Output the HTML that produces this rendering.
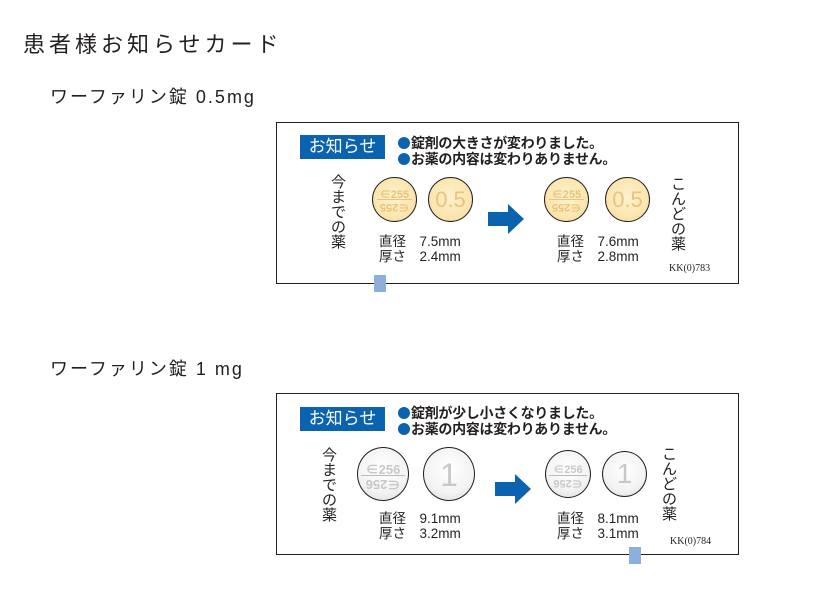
<!DOCTYPE html>
<html><head><meta charset="utf-8"><style>
body{margin:0;width:818px;height:603px;background:#fff;position:relative;overflow:hidden;font-family:"Liberation Sans","Noto Sans CJK JP",sans-serif;color:#231f20}
.a{position:absolute;white-space:nowrap}
.card{position:absolute;left:276px;width:461px;height:160px;border:1px solid #231f20;background:#fff}
.badge{position:absolute;background:#0b63b0;color:#fff;font-size:17px;text-align:center;line-height:24px}
.bl{font-size:14px;font-weight:bold;line-height:16px;letter-spacing:-0.3px}
.bl i{display:inline-block;width:12px;height:12px;border-radius:50%;background:#0b63b0;margin-right:1px;vertical-align:-1px}
.v{font-size:15px;line-height:15px;width:17px;text-align:center;white-space:normal}
.tab{position:absolute;border-radius:50%;border:1.5px solid #231f20;box-sizing:border-box;overflow:hidden}
.y{background:radial-gradient(circle at 50% 45%,#fdf1cf 0%,#fbe6b0 60%,#f3d593 100%);color:#e9c37a}
.w{background:radial-gradient(circle at 50% 40%,#ffffff 0%,#f3f3f3 60%,#d8d8d8 100%);color:#c8c8c8}
.tab .t{position:absolute;left:0;right:0;text-align:center}
.dm{font-size:13.5px;line-height:15px}
.kk{font-family:"Liberation Serif",serif;font-size:10px}
</style></head><body>
<div class="a" style="left:23px;top:27px;font-size:22px;letter-spacing:4px">患者様お知らせカード</div>
<div class="a" style="left:50px;top:83px;font-size:18px;letter-spacing:2px">ワーファリン錠 0.5mg</div>
<div class="a" style="left:50px;top:355px;font-size:18px;letter-spacing:2px">ワーファリン錠 1 mg</div>

<div class="card" style="top:122px"></div>
<div class="badge" style="left:300px;top:135px;width:85px;height:24px">お知らせ</div>
<div class="a bl" style="left:398px;top:135px"><i></i>錠剤の大きさが変わりました。<br><i></i>お薬の内容は変わりありません。</div>
<div class="a v" style="left:330px;top:175px">今までの薬</div>
<div class="a v" style="left:670px;top:177px">こんどの薬</div>
<div class="tab y" style="left:372px;top:177px;width:45px;height:45px"><div class="t" style="top:8px;font-size:11px;font-weight:bold">∈255</div><div style="position:absolute;left:4px;right:4px;top:21px;border-top:1px solid #e9c37a"></div><div class="t" style="top:22px;font-size:11px;font-weight:bold;transform:rotate(180deg)">∈255</div></div>
<div class="tab y" style="left:428px;top:177px;width:45px;height:45px"><div class="t" style="top:9px;font-size:22px">0.5</div></div>
<div class="tab y" style="left:544px;top:177px;width:45px;height:45px"><div class="t" style="top:8px;font-size:11px;font-weight:bold">∈255</div><div style="position:absolute;left:4px;right:4px;top:21px;border-top:1px solid #e9c37a"></div><div class="t" style="top:22px;font-size:11px;font-weight:bold;transform:rotate(180deg)">∈255</div></div>
<div class="tab y" style="left:605px;top:177px;width:45px;height:45px"><div class="t" style="top:9px;font-size:22px">0.5</div></div>
<svg class="a" style="left:488px;top:204px" width="38" height="30"><polygon points="0,8 20,8 20,0 36,15 20,30 20,22 0,22" fill="#0b63b0"/></svg>
<div class="a dm" style="left:379px;top:234px">直径　7.5mm<br>厚さ　2.4mm</div>
<div class="a dm" style="left:557px;top:234px">直径　7.6mm<br>厚さ　2.8mm</div>
<div class="a kk" style="left:669px;top:263px">KK(0)783</div>
<div class="a" style="left:374px;top:275px;width:12px;height:17px;background:#8eaedb"></div>

<div class="card" style="top:393px"></div>
<div class="badge" style="left:300px;top:407px;width:85px;height:24px">お知らせ</div>
<div class="a bl" style="left:398px;top:405px"><i></i>錠剤が少し小さくなりました。<br><i></i>お薬の内容は変わりありません。</div>
<div class="a v" style="left:321px;top:448px">今までの薬</div>
<div class="a v" style="left:661px;top:447px">こんどの薬</div>
<div class="tab w" style="left:357px;top:447px;width:52px;height:54px"><div class="t" style="top:11px;font-size:13px;font-weight:bold">∈256</div><div style="position:absolute;left:3px;right:3px;top:27px;border-top:1px solid #bbb"></div><div class="t" style="top:28px;font-size:13px;font-weight:bold;transform:rotate(180deg)">∈256</div></div>
<div class="tab w" style="left:423px;top:447px;width:52px;height:54px"><div class="t" style="top:9px;font-size:32px">1</div></div>
<div class="tab w" style="left:545px;top:450px;width:46px;height:48px"><div class="t" style="top:10px;font-size:11px;font-weight:bold">∈256</div><div style="position:absolute;left:3px;right:3px;top:24px;border-top:1px solid #bbb"></div><div class="t" style="top:25px;font-size:11px;font-weight:bold;transform:rotate(180deg)">∈256</div></div>
<div class="tab w" style="left:602px;top:451px;width:45px;height:46px"><div class="t" style="top:6px;font-size:28px">1</div></div>
<svg class="a" style="left:495px;top:474px" width="38" height="30"><polygon points="0,8 20,8 20,0 36,15 20,30 20,22 0,22" fill="#0b63b0"/></svg>
<div class="a dm" style="left:379px;top:511px">直径　9.1mm<br>厚さ　3.2mm</div>
<div class="a dm" style="left:557px;top:511px">直径　8.1mm<br>厚さ　3.1mm</div>
<div class="a kk" style="left:670px;top:536px">KK(0)784</div>
<div class="a" style="left:629px;top:547px;width:12px;height:17px;background:#8eaedb"></div>
</body></html>
